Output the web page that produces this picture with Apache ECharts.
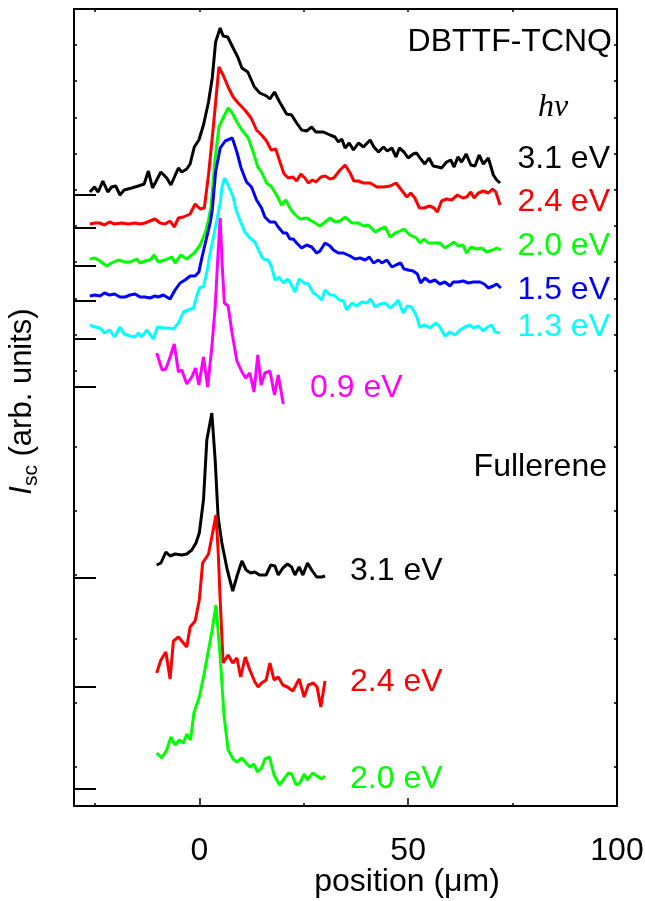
<!DOCTYPE html>
<html><head><meta charset="utf-8">
<script src="https://cdn.jsdelivr.net/npm/echarts@6/dist/echarts.min.js"></script>
<style>html,body{margin:0;padding:0;background:#fff}#c{width:645px;height:901px}</style>
</head><body><div id="c"></div>
<script>
// DBTTF-TCNQ curves (x: position in um, y: Isc in arb. units incl. vertical offset)
const dbt31 = [[-26.2,614],[-25.1,619],[-24.2,614],[-23.1,625],[-21.9,614],[-21.0,619],[-20.0,620],[-19.0,611],[-18.0,616],[-16.2,618],[-14.6,620],[-13.2,622],[-12.2,635],[-11.2,618],[-9.2,634],[-7.8,628],[-6.8,621],[-5.0,638],[-4.2,634],[-3.0,637],[-2.2,642],[-1.2,659],[-0.1,666],[1.0,681],[2.2,704],[3.1,728],[3.9,764],[5.0,778],[5.7,770],[6.8,769],[8.1,758],[9.2,749],[10.2,738],[11.6,734],[13.2,719],[14.5,713],[16.1,710],[16.9,707],[18.0,714],[19.1,705],[20.9,692],[22.1,691],[23.3,683],[24.5,676],[25.7,675],[26.9,679],[27.9,674],[29.7,674],[31.3,671],[32.5,669],[33.3,664],[34.1,667],[34.9,658],[35.9,663],[36.9,656],[38.1,663],[39.3,659],[40.9,666],[41.8,659],[42.9,654],[44.1,659],[45.0,655],[46.1,658],[47.1,649],[47.9,658],[49.0,654],[50.0,648],[51.2,652],[52.0,653],[53.2,646],[54.0,642],[55.0,648],[56.0,640],[57.2,639],[58.0,638],[59.2,644],[60.2,646],[61.0,639],[61.9,649],[62.8,644],[63.9,652],[65.0,641],[66.0,640],[67.0,651],[68.0,642],[69.2,648],[70.4,631],[71.2,626],[72.0,623]];
const dbt24 = [[-26.2,582],[-25.0,583],[-23.9,583],[-22.7,581],[-21.5,584],[-20.3,582],[-18.6,583],[-17.0,582],[-15.4,583],[-14.2,582],[-13.0,583],[-11.8,585],[-10.6,587],[-9.4,583],[-8.2,582],[-7.0,585],[-6.0,579],[-5.0,588],[-3.8,589],[-2.2,592],[-1.0,602],[0.2,597],[1.2,598],[2.2,631],[3.4,681],[4.7,739],[5.7,731],[6.9,719],[8.1,709],[9.3,703],[10.9,696],[12.4,688],[13.7,676],[14.9,671],[16.1,665],[17.2,656],[18.3,657],[19.3,644],[20.3,632],[21.3,628],[22.4,629],[23.3,625],[24.3,632],[25.3,628],[26.1,623],[27.1,626],[27.9,624],[29.1,629],[30.1,630],[31.3,627],[32.2,628],[33.7,636],[34.9,641],[36.1,633],[37.0,625],[38.1,625],[39.3,623],[40.9,623],[42.5,619],[44.1,619],[45.7,620],[47.1,623],[48.2,617],[49.7,609],[50.6,613],[51.6,608],[52.7,598],[53.8,598],[55.1,600],[56.2,598],[57.0,594],[58.0,605],[59.2,607],[60.4,606],[61.8,611],[63.1,608],[64.0,609],[65.0,614],[65.8,608],[66.8,613],[68.0,615],[69.2,613],[70.2,617],[71.0,614],[72.0,601]];
const dbt20 = [[-26.2,547],[-25.0,548],[-23.8,545],[-22.2,540],[-21.0,543],[-19.4,546],[-17.8,544],[-16.6,544],[-15.0,547],[-14.2,543],[-13.0,545],[-11.8,546],[-10.8,551],[-9.8,544],[-8.2,546],[-6.6,549],[-5.8,543],[-4.4,551],[-3.0,547],[-1.2,553],[0.2,561],[1.4,573],[2.2,586],[2.8,599],[3.8,648],[4.7,679],[5.7,688],[6.9,698],[7.9,693],[9.0,684],[10.2,676],[11.7,668],[12.9,654],[14.0,639],[14.9,634],[16.1,623],[17.3,619],[18.5,611],[19.7,601],[20.7,606],[21.7,598],[22.5,593],[24.1,587],[25.7,588],[27.3,584],[28.9,580],[30.1,584],[31.3,588],[32.5,584],[33.7,585],[34.9,589],[36.5,583],[38.1,583],[39.3,580],[40.5,581],[42.1,574],[43.3,577],[44.5,579],[45.7,569],[46.9,573],[47.6,574],[49.0,577],[50.4,571],[52.0,568],[52.8,563],[53.8,567],[54.8,563],[56.4,563],[57.6,563],[58.8,558],[60.0,561],[61.0,564],[62.0,560],[63.1,561],[64.0,553],[65.0,559],[66.4,557],[67.6,558],[68.8,554],[70.2,556],[71.2,558],[72.2,556]];
const dbt15 = [[-26.2,510],[-25.0,511],[-23.8,510],[-22.7,513],[-21.5,511],[-20.3,512],[-19.0,509],[-17.8,509],[-16.6,511],[-15.4,512],[-14.2,509],[-13.0,509],[-11.8,508],[-10.6,510],[-9.8,509],[-8.6,511],[-7.8,509],[-7.0,507],[-5.8,516],[-4.6,523],[-3.4,526],[-2.2,530],[-1.0,530],[-0.1,534],[0.6,548],[1.5,564],[2.6,583],[3.1,596],[3.9,634],[5.0,658],[6.2,665],[7.9,668],[9.0,654],[10.0,638],[11.3,624],[12.5,619],[13.7,606],[14.9,598],[15.7,589],[16.9,584],[18.1,584],[18.9,579],[20.1,573],[20.9,573],[21.7,567],[22.5,567],[23.3,563],[24.5,558],[25.7,561],[26.9,559],[28.1,553],[28.9,555],[30.1,563],[31.3,560],[32.1,556],[33.3,553],[34.5,553],[36.1,550],[37.3,547],[38.5,548],[39.7,546],[40.7,549],[41.7,543],[42.9,546],[43.7,543],[44.9,546],[46.1,539],[47.1,541],[48.2,543],[49.0,537],[50.0,536],[51.2,535],[52.2,532],[53.0,523],[54.0,528],[55.2,524],[56.4,526],[57.6,522],[58.8,524],[60.0,520],[60.8,524],[62.0,524],[63.2,525],[64.4,523],[65.6,524],[67.2,524],[68.2,522],[69.2,518],[70.4,520],[71.2,522],[72.2,518]];
const dbt13 = [[-26.2,481],[-25.0,479],[-23.8,478],[-22.7,473],[-21.5,476],[-20.3,469],[-19.0,479],[-18.0,472],[-16.6,470],[-15.4,469],[-14.6,473],[-13.8,469],[-12.6,476],[-11.0,467],[-10.0,479],[-8.6,478],[-7.4,478],[-6.2,477],[-5.0,483],[-3.8,494],[-2.6,496],[-1.4,498],[-0.4,513],[0.2,519],[1.0,519],[1.8,534],[2.6,553],[3.4,569],[4.2,586],[5.0,603],[5.4,618],[6.0,628],[6.9,621],[8.1,609],[8.8,596],[9.7,586],[10.9,574],[12.1,568],[13.3,564],[14.5,553],[15.3,547],[16.5,546],[17.3,539],[18.1,526],[19.1,529],[20.1,523],[21.2,527],[21.7,524],[22.9,514],[23.9,527],[25.1,523],[26.1,522],[27.3,513],[28.1,511],[29.3,506],[30.1,516],[31.3,511],[32.2,511],[33.5,506],[34.5,505],[35.3,496],[36.5,503],[37.7,500],[38.9,504],[40.1,503],[41.0,507],[42.1,499],[43.3,502],[44.5,503],[45.7,498],[46.9,502],[47.6,506],[48.8,493],[49.8,500],[50.8,499],[52.0,490],[52.8,479],[54.0,481],[55.2,478],[56.7,483],[57.6,479],[58.8,470],[60.0,474],[61.2,471],[62.4,476],[63.6,479],[64.8,481],[65.6,478],[66.8,480],[68.0,475],[69.0,479],[70.0,481],[70.8,474],[72.0,473]];
const dbt09 = [[-10.2,453],[-8.9,436],[-8.0,437],[-7.0,449],[-6.0,462],[-5.0,434],[-4.2,436],[-3.0,422],[-1.8,429],[-0.9,438],[-0.1,421],[1.0,449],[2.0,419],[3.0,459],[3.8,499],[4.4,546],[5.0,588],[5.5,539],[6.0,503],[6.9,500],[7.8,474],[9.0,445],[10.2,434],[11.1,428],[12.1,433],[13.1,414],[14.0,451],[14.8,421],[15.7,433],[16.9,435],[18.0,411],[18.9,431],[20.1,402]];
// Fullerene curves
const ful31 = [[-10.2,241],[-9.2,243],[-8.0,254],[-7.0,250],[-5.8,252],[-4.2,251],[-3.0,252],[-1.8,256],[-0.8,263],[0.0,273],[1.0,306],[1.8,366],[3.0,393],[3.8,346],[4.5,289],[5.4,263],[6.7,236],[8.0,215],[9.1,231],[10.2,245],[11.2,236],[12.3,233],[13.3,234],[14.4,231],[16.0,231],[17.1,241],[18.1,240],[18.9,231],[20.0,238],[21.1,242],[22.1,239],[22.9,231],[23.9,239],[24.8,231],[25.9,243],[26.9,236],[28.1,229],[29.3,229],[30.1,230]];
const ful24 = [[-10.2,133],[-9.2,146],[-8.0,154],[-7.0,127],[-6.2,165],[-5.0,169],[-4.0,164],[-3.0,159],[-2.2,179],[-1.0,185],[0.0,206],[0.8,243],[2.2,252],[3.0,269],[4.0,291],[4.5,256],[5.0,206],[5.7,143],[6.9,151],[8.0,143],[9.0,148],[9.9,129],[11.0,149],[12.1,136],[13.3,124],[14.1,119],[14.9,123],[16.0,126],[16.9,143],[17.9,126],[18.9,129],[20.0,121],[21.1,119],[22.4,115],[23.9,127],[25.1,109],[26.1,121],[27.3,123],[28.2,119],[29.1,99],[30.1,125]];
const ful20 = [[-10.2,53],[-9.0,48],[-7.8,56],[-6.8,69],[-5.8,61],[-4.8,66],[-3.8,63],[-3.0,72],[-2.1,66],[-1.3,93],[0.0,109],[1.1,131],[2.2,156],[3.0,174],[4.0,201],[5.0,149],[5.9,91],[6.9,56],[8.1,47],[9.0,44],[10.2,48],[11.2,43],[12.1,39],[13.1,42],[13.9,34],[14.9,38],[15.7,47],[16.8,49],[17.9,31],[19.2,21],[20.1,26],[21.3,33],[22.1,32],[23.2,21],[24.1,23],[25.1,32],[25.9,26],[27.1,33],[28.2,30],[29.3,27],[30.1,30]];

const seriesColors = ['#000000','#ff0000','#00ff00','#0000ff','#00ffff','#ff00ff','#000000','#ff0000','#00ff00'];
const seriesData = [dbt31, dbt24, dbt20, dbt15, dbt13, dbt09, ful31, ful24, ful20];

const baselineTicks = [611,578,540,505,467,419,228,119,17];
const minorYTicks = [761,725,688,652,616,580,544,507,471,435,359,295,231,167,103,39];
const xMajorTicks = [0,50,100];
const xMinorTicks = [-25,25,75];
const xTopTicks = [-25,0,25,50,75];

const FONT = '"Liberation Sans", Arial, Helvetica, sans-serif';
const chart = echarts.init(document.getElementById('c'), null, {renderer:'canvas'});
const axisLineStyle = {color:'#000', width:2};
const noSplit = {show:false};

const txt = (t, x, y, color, align) => ({
  type:'text', x:x, y:y, silent:true,
  style:{text:t, fill:color, font:'32px ' + FONT, align:align, verticalAlign:'middle'}
});

chart.setOption({
  animation:false,
  backgroundColor:'#fff',
  grid:{left:74, right:28, top:9, bottom:95, containLabel:false, outerBoundsMode:'none'},
  xAxis:[
    {type:'value', min:-30, max:100, position:'bottom',
     axisLine:{show:true, onZero:false, lineStyle:axisLineStyle},
     axisTick:{show:true, inside:true, length:8, customValues:xMajorTicks, lineStyle:{color:'#000', width:1.5}},
     axisLabel:{show:true, customValues:xMajorTicks, fontSize:32, fontFamily:FONT, color:'#000', margin:29},
     splitLine:noSplit},
    {type:'value', min:-30, max:100, position:'bottom',
     axisLine:{show:false, onZero:false},
     axisTick:{show:true, inside:true, length:3, customValues:xMinorTicks, lineStyle:{color:'#000', width:1.5}},
     axisLabel:{show:false}, splitLine:noSplit},
    {type:'value', min:-30, max:100, position:'top',
     axisLine:{show:true, onZero:false, lineStyle:axisLineStyle},
     axisTick:{show:true, inside:true, length:3, customValues:xTopTicks, lineStyle:{color:'#000', width:1.5}},
     axisLabel:{show:false}, splitLine:noSplit}
  ],
  yAxis:[
    {type:'value', min:0, max:797, position:'left',
     axisLine:{show:true, onZero:false, lineStyle:axisLineStyle},
     axisTick:{show:true, inside:true, length:3, customValues:minorYTicks, lineStyle:{color:'#000', width:1.5}},
     axisLabel:{show:false}, splitLine:noSplit,
     name:'{i|I}{s|sc}{t| (arb. units)}', nameLocation:'middle', nameGap:32, nameRotate:90,
     nameTextStyle:{color:'#000', padding:[0,0,0,12], rich:{
       i:{fontFamily:FONT, fontStyle:'italic', fontSize:31, lineHeight:40, verticalAlign:'middle', color:'#000'},
       s:{fontFamily:FONT, fontSize:21, lineHeight:20, verticalAlign:'bottom', color:'#000'},
       t:{fontFamily:FONT, fontSize:31, lineHeight:40, verticalAlign:'middle', color:'#000'}
     }}},
    {type:'value', min:0, max:797, position:'left',
     axisLine:{show:false, onZero:false},
     axisTick:{show:true, inside:true, length:22, customValues:baselineTicks, lineStyle:{color:'#000', width:2}},
     axisLabel:{show:false}, splitLine:noSplit},
    {type:'value', min:0, max:797, position:'right',
     axisLine:{show:true, onZero:false, lineStyle:axisLineStyle},
     axisTick:{show:true, inside:true, length:3, customValues:minorYTicks, lineStyle:{color:'#000', width:1.5}},
     axisLabel:{show:false}, splitLine:noSplit}
  ],
  series: seriesData.map((d, i) => ({
    type:'line', data:d, xAxisIndex:0, yAxisIndex:0, symbol:'none', silent:true,
    lineStyle:{color:seriesColors[i], width:3}, itemStyle:{color:seriesColors[i]}, z:2+i
  })),
  graphic:[
    txt('DBTTF-TCNQ', 612, 42, '#000', 'right'),
    {type:'text', x:553, y:108, silent:true, style:{text:'hν', fill:'#000', font:'italic 32px "Liberation Serif", serif', align:'center', verticalAlign:'middle'}},
    txt('3.1 eV', 610, 159, '#000', 'right'),
    txt('2.4 eV', 610, 202, '#ff0000', 'right'),
    txt('2.0 eV', 610, 246, '#00ff00', 'right'),
    txt('1.5 eV', 610, 290, '#0000ff', 'right'),
    txt('1.3 eV', 610, 327, '#00ffff', 'right'),
    txt('0.9 eV', 310, 388, '#ff00ff', 'left'),
    txt('Fullerene', 607, 467, '#000', 'right'),
    txt('3.1 eV', 350, 571, '#000', 'left'),
    txt('2.4 eV', 350, 682, '#ff0000', 'left'),
    txt('2.0 eV', 350, 779, '#00ff00', 'left'),
    txt('position (μm)', 407, 882, '#000', 'center')
  ]
});
</script></body></html>
